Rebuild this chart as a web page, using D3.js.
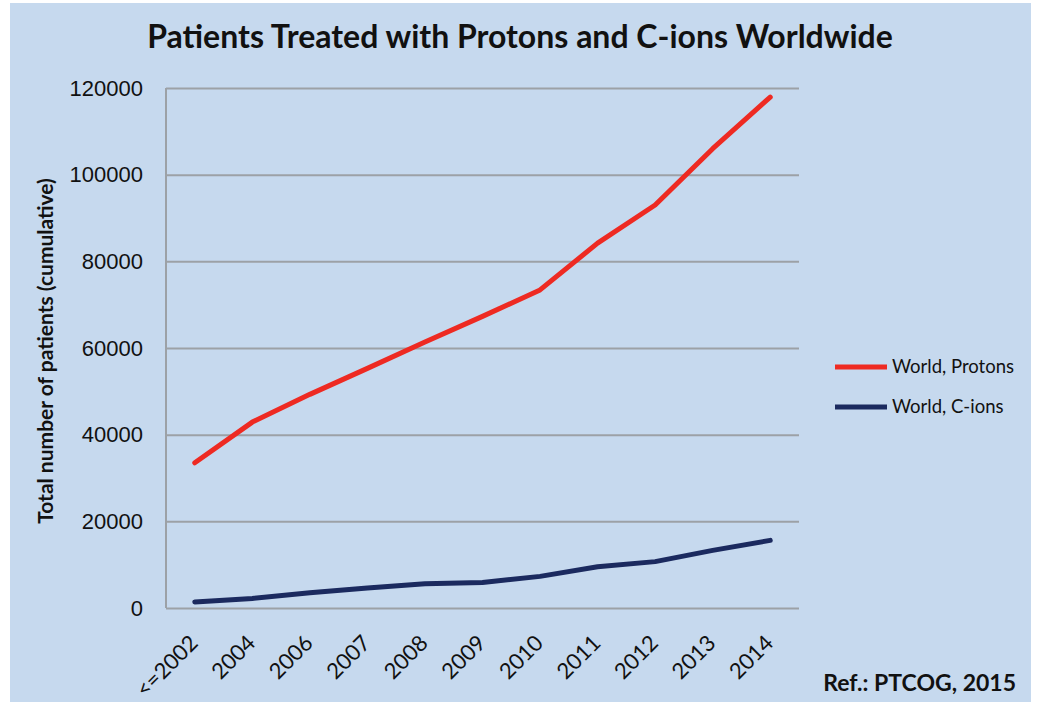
<!DOCTYPE html>
<html>
<head>
<meta charset="utf-8">
<script src="https://cdn.jsdelivr.net/npm/d3@7"></script>
<style>
  html, body { margin: 0; padding: 0; background: #ffffff; }
  svg { display: block; font-family: Lato, "Noto Sans", sans-serif; }
</style>
</head>
<body>
<svg id="chart" width="1037" height="702"></svg>
<script>
// categories on the x axis
const years = ["<=2002", "2004", "2006", "2007", "2008", "2009", "2010", "2011", "2012", "2013", "2014"];

// cumulative patients
const protons = [33500, 42900, 49300, 55300, 61400, 67300, 73400, 84200, 93000, 106000, 117900];
const cions   = [1400, 2200, 3500, 4600, 5600, 5900, 7300, 9500, 10700, 13300, 15600];

const yTicks = [0, 20000, 40000, 60000, 80000, 100000, 120000];

const series = [
    { name: "World, Protons", values: protons, color: "#ee2a22" },
    { name: "World, C-ions",  values: cions,   color: "#1b2a5f" }
];

const svg = d3.select("#chart");

// light blue panel (a thin white frame shows at the top-left)
svg.append("rect")
    .attr("x", 10).attr("y", 3)
    .attr("width", 1021).attr("height", 699)
    .attr("fill", "#c6d9ee");

const plot = { left: 166, top: 88, right: 799, bottom: 608 };

const xScale = d3.scaleBand()
    .domain(years)
    .range([plot.left, plot.right]);

const yScale = d3.scaleLinear()
    .domain([0, 120000])
    .range([plot.bottom, plot.top]);

const gridColor = "#9ca1a6";

// horizontal gridlines + labels
const yAxis = d3.axisLeft(yScale)
    .tickValues(yTicks)
    .tickSize(-(plot.right - plot.left))
    .tickPadding(23)
    .tickFormat(d3.format("d"));

svg.append("g")
    .attr("transform", `translate(${plot.left},0)`)
    .call(yAxis)
    .call(g => g.select(".domain").remove())
    .call(g => g.selectAll("line").attr("stroke", gridColor).attr("stroke-width", 2))
    .call(g => g.selectAll("text")
        .attr("font-size", 22)
        .attr("fill", "#111"));

// left axis line
svg.append("line")
    .attr("x1", plot.left).attr("x2", plot.left)
    .attr("y1", plot.top).attr("y2", plot.bottom)
    .attr("stroke", gridColor).attr("stroke-width", 2);

// x labels, rotated like the original
svg.append("g")
    .selectAll("text")
    .data(years)
    .join("text")
        .attr("transform", d => `translate(${xScale(d) + xScale.bandwidth() / 2 - 1},639) rotate(-45)`)
        .attr("text-anchor", "end")
        .attr("dy", "0.35em")
        .attr("font-size", 22)
        .attr("fill", "#111")
        .text(d => d);

// lines
const line = d3.line()
    .x((d, i) => xScale(years[i]) + xScale.bandwidth() / 2)
    .y(d => yScale(d));

svg.append("g")
    .selectAll("path")
    .data(series)
    .join("path")
        .attr("d", d => line(d.values))
        .attr("fill", "none")
        .attr("stroke", d => d.color)
        .attr("stroke-width", 5)
        .attr("stroke-linecap", "round")
        .attr("stroke-linejoin", "round");

// title
svg.append("text")
    .attr("x", 520).attr("y", 48)
    .attr("text-anchor", "middle")
    .attr("font-size", 32)
    .attr("font-weight", "bold")
    .attr("fill", "#111")
    .text("Patients Treated with Protons and C-ions Worldwide");

// y axis title
svg.append("text")
    .attr("transform", "translate(53,351) rotate(-90)")
    .attr("text-anchor", "middle")
    .attr("font-size", 21)
    .attr("font-weight", "bold")
    .attr("fill", "#111")
    .text("Total number of patients (cumulative)");

// legend
const legend = svg.append("g")
    .selectAll("g")
    .data(series)
    .join("g")
        .attr("transform", (d, i) => `translate(835,${367 + i * 40})`);

legend.append("line")
    .attr("x1", 0).attr("x2", 52)
    .attr("stroke", d => d.color)
    .attr("stroke-width", 5);

legend.append("text")
    .attr("x", 57)
    .attr("dy", "0.35em")
    .attr("font-size", 18.5)
    .attr("fill", "#111")
    .text(d => d.name);

// reference note
svg.append("text")
    .attr("x", 1016).attr("y", 691)
    .attr("text-anchor", "end")
    .attr("font-size", 23)
    .attr("font-weight", "bold")
    .attr("fill", "#111")
    .text("Ref.: PTCOG, 2015");
</script>
</body>
</html>
